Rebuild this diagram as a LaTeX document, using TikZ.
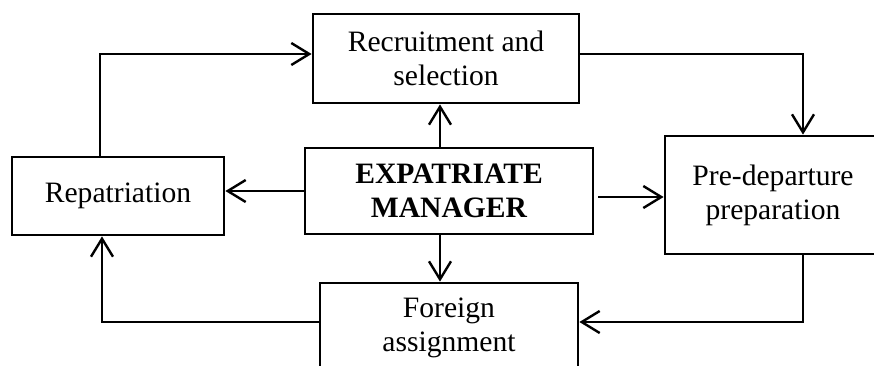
\documentclass[tikz,border=0pt]{standalone}
\usepackage{fontspec}
\setmainfont{Liberation Serif}
\usetikzlibrary{arrows.meta, positioning}

\begin{document}
\begin{tikzpicture}[
    x=0.5pt, y=-0.5pt,
    >={Straight Barb[length=9pt, width=11pt]},
    stage/.style={draw, line width=1.4pt, align=center, inner sep=3pt, fill=white, font=\fontsize{14.8}{17}\selectfont},
    hub/.style={stage, font=\fontsize{14.8}{17}\selectfont\bfseries},
    link/.style={->, line width=1.2pt}
]
\useasboundingbox (0,0) rectangle (874,365);
\clip (0,0) rectangle (874,365);

\node[stage, minimum width=133pt, minimum height=44.5pt] (recruit) at (446,58.5) {Recruitment and\\selection};
\node[hub, minimum width=144pt, minimum height=43pt] (expat) at (449,191) {EXPATRIATE\\MANAGER};
\node[stage, minimum width=106pt, minimum height=39pt] (repat) at (118,196) {Repatriation};
\node[stage, minimum width=108pt, minimum height=59pt] (predep) at (773,195) {Pre-departure\\preparation};
\node[stage, minimum width=129pt, minimum height=44.5pt] (foreign) at (449,327.5) {Foreign\\assignment};

% cycle round the hub
\draw[link] ([xshift=-9pt]repat.north) |- ([yshift=2.25pt]recruit.west);
\draw[link] ([yshift=2.25pt]recruit.east) -| ([xshift=15pt]predep.north);
\draw[link] ([xshift=15pt]predep.south) |- ([yshift=2.75pt]foreign.east);
\draw[link] ([yshift=2.75pt]foreign.west) -| ([xshift=-8pt]repat.south);

% hub outwards
\coordinate (upx) at ([xshift=-4.5pt]expat.north);
\coordinate (downx) at ([xshift=-4.5pt]expat.south);
\coordinate (rightx) at ([yshift=-3pt]expat.east);
\draw[link] (upx) -- (upx |- recruit.south);
\draw[link] (downx) -- (downx |- foreign.north);
\draw[link] (expat.west) -- (expat.west -| repat.east);
\draw[link, shorten <=2pt] (rightx) -- (rightx -| predep.west);

\end{tikzpicture}
\end{document}
